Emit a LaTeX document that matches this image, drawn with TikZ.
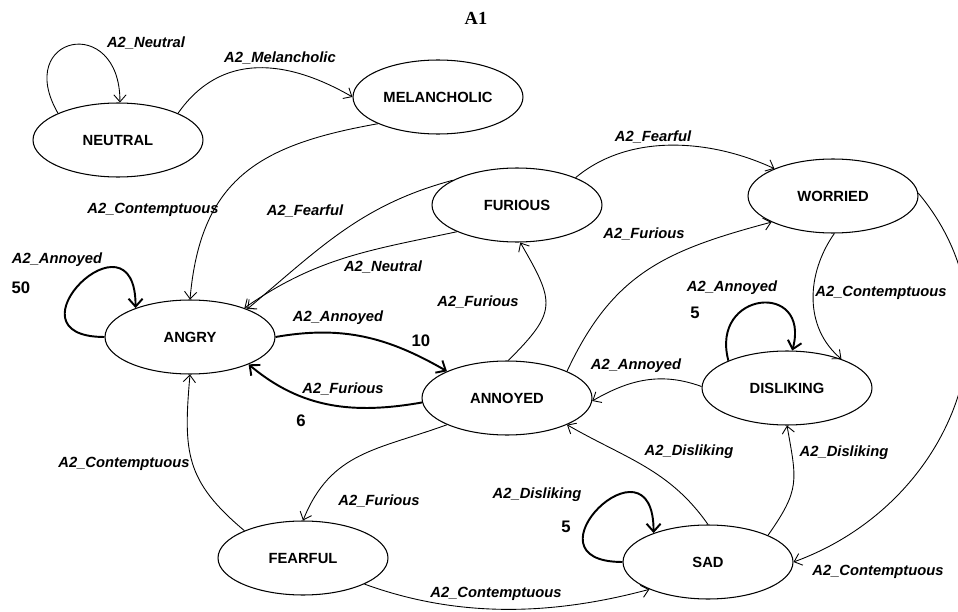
\documentclass[tikz,border=0pt]{standalone}
\usepackage{fontspec}
\setmainfont{Liberation Serif}
\setsansfont{Liberation Sans}
\usepackage{tikz}
\usetikzlibrary{shapes}
\usetikzlibrary{arrows.meta}

\begin{document}
\begin{tikzpicture}[x=0.02cm, y=0.02cm]

      \tikzset{state/.style = {shape=ellipse,draw,line width=0.6pt,minimum width=3.4cm,minimum height=1.48cm,inner sep=0pt,font=\sffamily\bfseries\fontsize{8.4}{10}\selectfont}}
      \tikzset{edge/.style = {-{Straight Barb[length=4pt,width=7pt]},line width=0.5pt}}
      \tikzset{heavy/.style = {-{Straight Barb[length=4.5pt,width=8pt]},line width=1.1pt}}
      \tikzset{lbl/.style = {inner sep=0pt,font=\sffamily\bfseries\itshape\fontsize{8.4}{10}\selectfont}}
      \tikzset{wgt/.style = {inner sep=0pt,font=\sffamily\bfseries\fontsize{9.5}{10}\selectfont}}
      \useasboundingbox (0,0) rectangle (958,-612);
      \node[font=\rmfamily\bfseries\fontsize{10.5}{12}\selectfont] (title) at (476,-18) {A1};
      % vertices
      \node[state] (neutral)   at (118,-140) {NEUTRAL};
      \node[state] (melan)     at (438,-97)  {MELANCHOLIC};
      \node[state] (furious)   at (517,-205) {FURIOUS};
      \node[state] (worried)   at (833,-196) {WORRIED};
      \node[state] (angry)     at (190,-337) {ANGRY};
      \node[state] (annoyed)   at (507,-398) {ANNOYED};
      \node[state] (disliking) at (787,-388) {DISLIKING};
      \node[state] (fearful)   at (303,-558) {FEARFUL};
      \node[state] (sad)       at (708,-562) {SAD};
      %edges
      \draw[edge] (neutral.156) to[out=120,in=90,distance=1.8cm] (neutral.87)
        node[lbl] (l-nn) at (146,-43) {A2\_Neutral};
      \draw[edge] (neutral.24) to[out=55,in=150,looseness=1.1] (melan.180)
        node[lbl] (l-nm) at (280,-58) {A2\_Melancholic};
      \draw[edge] (melan.204) to[out=190,in=85,looseness=1.2] (angry.90)
        node[lbl] (l-ma) at (153,-210) {A2\_Contemptuous};
      \draw[edge] (furious.159) to[out=195,in=40] (angry.26)
        node[lbl] (l-fa1) at (305,-211) {A2\_Fearful};
      \draw[edge] (furious.204) to[out=192,in=35] (angry.28)
        node[lbl] (l-fa2) at (383,-267) {A2\_Neutral};
      \draw[edge] (furious.25) to[out=40,in=155,looseness=0.9] (worried.155)
        node[lbl] (l-fw) at (653,-137) {A2\_Fearful};
      \draw[edge] (annoyed.24) to[out=65,in=195,looseness=1.1] (worried.203)
        node[lbl] (l-nw) at (644,-234) {A2\_Furious};
      \draw[edge] (annoyed.88) to[out=45,in=300,looseness=1.5] (furious.275)
        node[lbl] (l-nf) at (478,-302) {A2\_Furious};
      \draw[heavy] (angry.0) to[out=10,in=150] (annoyed.156)
        node[lbl] (l-an) at (338,-318) {A2\_Annoyed}
        node[wgt] (w-an) at (421,-341) {10};
      \draw[heavy] (annoyed.183) to[out=190,in=320] (angry.335)
        node[lbl] (l-na) at (343,-389) {A2\_Furious}
        node[wgt] (w-na) at (301,-421) {6};
      \draw[heavy] (angry.180) to[out=180,in=90,distance=2.1cm] (angry.152)
        node[lbl] (l-aa) at (57,-260) {A2\_Annoyed}
        node[wgt] (w-aa) at (21,-288) {50};
      \draw[edge] (worried.272) to[out=235,in=140] (disliking.28)
        node[lbl] (l-wd) at (881,-293) {A2\_Contemptuous};
      \draw[edge] (worried.2) to[out=310,in=20,looseness=1.1] (sad.0)
        node[lbl] (l-ws) at (878,-572) {A2\_Contemptuous};
      \draw[heavy] (disliking.155) to[out=105,in=75,distance=1.45cm] (disliking.82)
        node[lbl] (l-dd) at (732,-288) {A2\_Annoyed}
        node[wgt] (w-dd) at (695,-313) {5};
      \draw[edge] (disliking.179) to[out=160,in=30] (annoyed.358)
        node[lbl] (l-dn) at (636,-366) {A2\_Annoyed};
      \draw[edge] (annoyed.204) to[out=200,in=68,looseness=1.1] (fearful.90)
        node[lbl] (l-ne) at (379,-501) {A2\_Furious};
      \draw[edge] (fearful.155) to[out=140,in=265,looseness=1.2] (angry.270)
        node[lbl] (l-ea) at (124,-464) {A2\_Contemptuous};
      \draw[edge] (fearful.337) to[out=340,in=195,looseness=0.9] (sad.205)
        node[lbl] (l-es) at (496,-594) {A2\_Contemptuous};
      \draw[edge] (sad.90) to[out=125,in=330] (annoyed.336)
        node[lbl] (l-sn) at (689,-452) {A2\_Disliking};
      \draw[edge] (sad.24) to[out=55,in=280,looseness=1.3] (disliking.270)
        node[lbl] (l-sd) at (844,-453) {A2\_Disliking};
      \draw[heavy] (sad.180) to[out=180,in=90,distance=2.1cm] (sad.152)
        node[lbl] (l-ss) at (537,-495) {A2\_Disliking}
        node[wgt] (w-ss) at (566,-527) {5};

\end{tikzpicture}
\end{document}
